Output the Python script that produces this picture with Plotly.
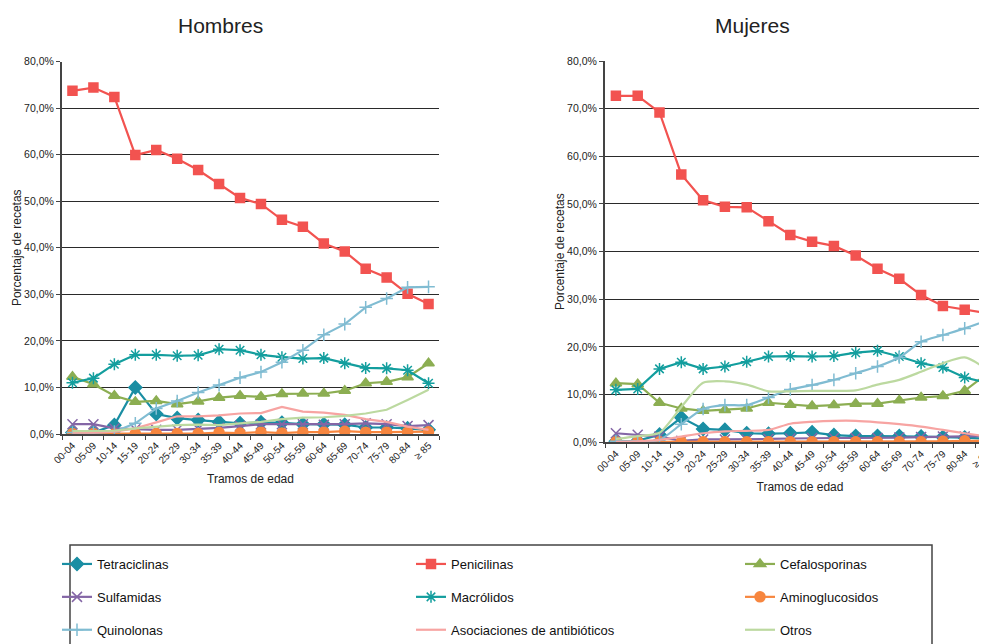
import plotly.graph_objects as go

categories = ["00-04", "05-09", "10-14", "15-19", "20-24", "25-29", "30-34", "35-39",
              "40-44", "45-49", "50-54", "55-59", "60-64", "65-69", "70-74", "75-79",
              "80-84", "≥ 85"]

series_names = ["Tetraciclinas", "Penicilinas", "Cefalosporinas", "Sulfamidas", "Macrólidos",
                "Aminoglucosidos", "Quinolonas", "Asociaciones de antibióticos", "Otros"]

# Hombres (% de recetas)
h_tetraciclinas = [0.3, 0.3, 1.9, 10.0, 4.3, 3.4, 3.0, 2.6, 2.3, 2.5, 2.4, 2.1, 2.1, 2.0, 1.4, 1.4, 1.2, 0.9]
h_penicilinas = [73.7, 74.4, 72.4, 59.9, 61.0, 59.1, 56.7, 53.7, 50.7, 49.4, 46.0, 44.5, 40.9, 39.2, 35.5, 33.6, 30.1, 27.9]
h_cefalosporinas = [12.3, 10.7, 8.2, 6.9, 7.1, 6.4, 7.0, 7.8, 8.2, 8.0, 8.6, 8.7, 8.7, 9.3, 10.9, 11.2, 12.2, 15.2]
h_sulfamidas = [2.1, 2.1, 1.2, 1.0, 0.9, 0.9, 1.1, 1.3, 1.7, 2.1, 2.1, 2.1, 2.0, 2.1, 2.3, 2.1, 1.7, 1.9]
h_macrolidos = [11.0, 12.0, 15.0, 17.0, 17.0, 16.8, 16.9, 18.2, 18.0, 17.0, 16.5, 16.2, 16.3, 15.2, 14.2, 14.1, 13.7, 10.9]
h_aminoglucosidos = [0.1, 0.1, 0.0, 0.1, 0.1, 0.1, 0.1, 0.3, 0.2, 0.4, 0.2, 0.4, 0.4, 0.6, 0.4, 0.4, 0.4, 0.5]
h_quinolonas = [0.3, 0.3, 0.5, 2.3, 5.5, 7.1, 8.9, 10.5, 12.1, 13.3, 15.4, 18.0, 21.3, 23.6, 27.2, 29.1, 31.5, 31.6]
h_asociaciones = [0.3, 0.3, 0.5, 1.2, 2.5, 3.8, 3.8, 4.0, 4.4, 4.5, 5.8, 4.8, 4.6, 4.1, 3.2, 2.6, 1.6, 0.9]
h_otros = [0.6, 0.6, 0.7, 1.2, 1.5, 1.9, 2.0, 1.9, 2.3, 2.6, 3.2, 3.5, 3.6, 3.9, 4.4, 5.2, 7.3, 9.5]

# Mujeres (% de recetas)
m_tetraciclinas = [0.2, 0.3, 1.6, 5.2, 2.8, 2.6, 1.9, 1.8, 1.9, 2.1, 1.5, 1.3, 1.3, 1.3, 1.2, 1.1, 1.0, 0.7]
m_penicilinas = [72.7, 72.7, 69.2, 56.2, 50.8, 49.4, 49.3, 46.4, 43.5, 42.1, 41.2, 39.2, 36.4, 34.3, 30.9, 28.6, 27.8, 27.1]
m_cefalosporinas = [12.4, 12.2, 8.3, 7.1, 6.6, 6.8, 7.1, 8.3, 7.9, 7.6, 7.8, 8.1, 8.1, 8.8, 9.4, 9.7, 10.8, 14.3]
m_sulfamidas = [1.9, 1.6, 1.2, 0.3, 0.6, 0.6, 0.6, 0.7, 0.8, 0.9, 0.9, 0.9, 0.9, 1.0, 1.1, 1.2, 1.2, 1.3]
m_macrolidos = [11.0, 11.2, 15.4, 16.8, 15.4, 15.9, 16.9, 18.0, 18.1, 18.0, 18.1, 18.8, 19.2, 18.0, 16.6, 15.7, 13.6, 12.5]
m_aminoglucosidos = [0.1, 0.1, 0.1, 0.1, 0.1, 0.1, 0.1, 0.1, 0.1, 0.1, 0.1, 0.1, 0.1, 0.1, 0.1, 0.2, 0.3, 0.3]
m_quinolonas = [0.2, 0.2, 0.5, 3.8, 7.0, 7.8, 7.8, 9.4, 11.1, 12.0, 13.1, 14.5, 15.9, 17.8, 21.1, 22.5, 23.9, 25.5]
m_asociaciones = [0.1, 0.2, 0.5, 1.2, 1.9, 2.3, 2.4, 2.6, 3.9, 4.3, 4.5, 4.5, 4.2, 3.8, 3.3, 2.6, 1.9, 1.2]
m_otros = [0.7, 1.3, 2.0, 7.4, 12.5, 12.8, 12.1, 10.7, 10.7, 10.8, 10.8, 10.9, 12.1, 13.1, 14.8, 16.6, 17.8, 15.4]

y_tick_values = [0, 10, 20, 30, 40, 50, 60, 70, 80]
y_tick_labels = ["0,0%", "10,0%", "20,0%", "30,0%", "40,0%", "50,0%", "60,0%", "70,0%", "80,0%"]

hombres = [h_tetraciclinas, h_penicilinas, h_cefalosporinas, h_sulfamidas, h_macrolidos,
           h_aminoglucosidos, h_quinolonas, h_asociaciones, h_otros]
mujeres = [m_tetraciclinas, m_penicilinas, m_cefalosporinas, m_sulfamidas, m_macrolidos,
           m_aminoglucosidos, m_quinolonas, m_asociaciones, m_otros]

styles = [
    dict(color="#1a8ea3", symbol="diamond", size=10, legend="legend"),
    dict(color="#f25350", symbol="square", size=9, legend="legend2"),
    dict(color="#8cae52", symbol="triangle-up", size=10, legend="legend3"),
    dict(color="#8466a6", symbol="x-thin", size=10, legend="legend"),
    dict(color="#139e9e", symbol="asterisk", size=10, legend="legend2"),
    dict(color="#f7863f", symbol="circle", size=10, legend="legend3"),
    dict(color="#80bcd2", symbol="cross-thin", size=9, legend="legend"),
    dict(color="#f7a4a2", symbol=None, size=0, legend="legend2"),
    dict(color="#bcd9a0", symbol=None, size=0, legend="legend3"),
]

fig = go.Figure()

for panel, data in (("x", hombres), ("x2", mujeres)):
    yref = "y" if panel == "x" else "y2"
    for name, vals, st in zip(series_names, data, styles):
        mode = "lines+markers" if st["symbol"] else "lines"
        marker = dict(color=st["color"], symbol=st["symbol"], size=st["size"],
                      line=dict(color=st["color"], width=1.5)) if st["symbol"] else None
        smooth = (panel == "x2" and st["symbol"] in (None, "cross-thin"))
        line = dict(color=st["color"], width=2.2)
        if smooth:
            line.update(shape="spline", smoothing=0.7)
        fig.add_trace(go.Scatter(
            x=categories, y=vals, name=name, mode=mode,
            line=line,
            marker=marker,
            xaxis=panel, yaxis=yref,
            legendgroup=name, legend=st["legend"],
            showlegend=(panel == "x"),
            hoverinfo="skip",
        ))

W, H = 987, 644
OFF = 8  # page body margin offset

def px_x(v):
    return (v - OFF) / W

def px_y(v):
    return 1 - (v - OFF) / H

axis_common_x = dict(
    type="category", tickson="boundaries", ticks="outside", ticklen=4,
    tickcolor="#444", tickangle=-45, tickfont=dict(size=10, color="#222"),
    showline=True, linecolor="#444", linewidth=1.5, showgrid=False, automargin=False,
    title=dict(text="Tramos de edad", font=dict(size=12, color="#222"), standoff=10),
)
axis_common_y = dict(
    range=[0, 80], tickvals=y_tick_values, ticktext=y_tick_labels,
    ticks="outside", ticklen=4, tickcolor="#444",
    tickfont=dict(size=10.5, color="#222"), automargin=False,
    showline=True, linecolor="#444", linewidth=2,
    showgrid=True, gridcolor="#2a2a2a", gridwidth=1.4, zeroline=False,
    title=dict(text="Porcentaje de recetas", font=dict(size=12, color="#222"), standoff=0),
)

right_span = (W - (605 - OFF)) / 21.8

legend_common = dict(xanchor="left", yanchor="top", orientation="v", tracegroupgap=13,
                     font=dict(size=13, color="#111"), bgcolor="rgba(0,0,0,0)")

fig.update_layout(
    width=W, height=H,
    margin=dict(l=0, r=0, t=0, b=0, autoexpand=False),
    paper_bgcolor="white", plot_bgcolor="white",
    separators=",.",
    font=dict(family="Liberation Sans, Arial, sans-serif", color="#222"),
    xaxis=dict(axis_common_x, domain=[px_x(62), px_x(439)], range=[-0.5, 17.5], anchor="y"),
    yaxis=dict(axis_common_y, domain=[px_y(434), px_y(61.5)], anchor="x"),
    xaxis2=dict(axis_common_x, domain=[px_x(605), 1.0], range=[-0.5, -0.5 + right_span], anchor="y2"),
    yaxis2=dict(axis_common_y, domain=[px_y(442.3), px_y(61)], anchor="x2"),
    legend=dict(legend_common, x=px_x(57), y=px_y(549)),
    legend2=dict(legend_common, x=px_x(411), y=px_y(549)),
    legend3=dict(legend_common, x=px_x(740), y=px_y(549)),
    shapes=[dict(type="rect", xref="paper", yref="paper",
                 x0=px_x(70), x1=px_x(932), y0=-0.05, y1=px_y(545),
                 line=dict(color="#444", width=1.5), fillcolor="rgba(0,0,0,0)", layer="below")],
    annotations=[
        dict(text="Hombres", x=px_x(220), y=px_y(25), xref="paper", yref="paper",
             showarrow=False, font=dict(size=21, color="#222"), xanchor="center", yanchor="middle"),
        dict(text="Mujeres", x=px_x(752), y=px_y(25), xref="paper", yref="paper",
             showarrow=False, font=dict(size=21, color="#222"), xanchor="center", yanchor="middle"),
    ],
)

fig.write_html("out.html")
